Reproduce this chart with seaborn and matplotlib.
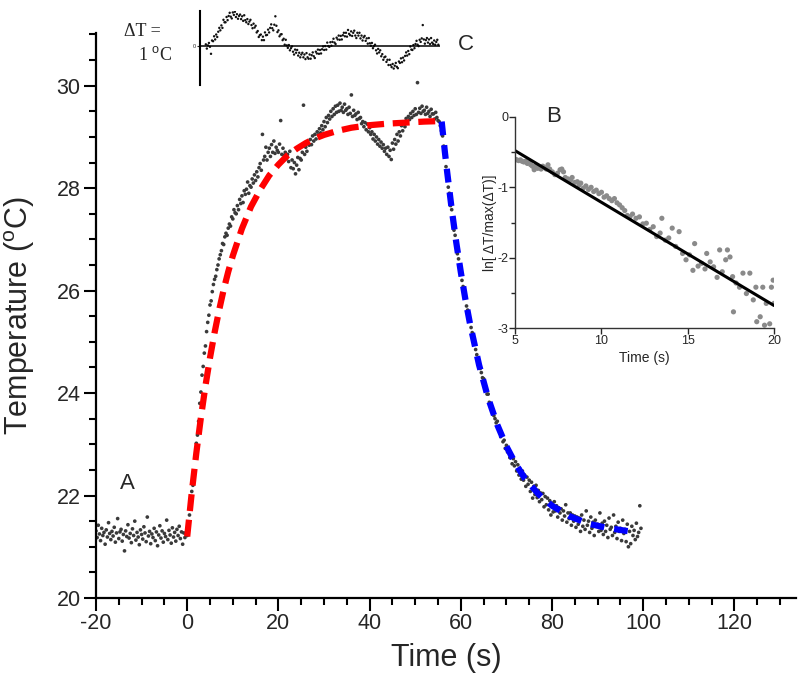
import numpy as np
import matplotlib
matplotlib.use("Agg")
import matplotlib.pyplot as plt
import seaborn as sns
from matplotlib import font_manager
from matplotlib.ticker import MultipleLocator, FixedLocator

# ---- main trace (A), one reading every 0.25 s starting at -20 s ----
t_start = -20.0
sample_step = 0.25

baseline_temp = [
    21.31, 21.18, 21.42, 21.25, 21.12, 21.36, 21.22, 21.28, 21.05, 21.33,
    21.19, 21.47, 21.26, 21.14, 21.30, 21.21, 21.38, 21.09, 21.27, 21.55,
    21.16, 21.29, 21.34, 21.11, 21.24, 20.92, 21.31, 21.20, 21.43, 21.17,
    21.26, 21.08, 21.35, 21.22, 21.50, 21.13, 21.28, 21.19, 21.04, 21.33,
    21.24, 21.15, 21.39, 21.27, 21.10, 21.58, 21.21, 21.30, 21.06, 21.25,
    21.18, 21.36, 21.12, 21.29, 21.02, 21.23, 21.41, 21.17, 21.31, 21.09,
    21.26, 21.20, 21.52, 21.14, 21.32, 21.23, 21.07, 21.37, 21.19, 21.28,
    21.11, 21.34, 21.22, 21.40, 21.16, 21.29, 21.05, 21.27, 21.18, 21.25,
]

heating_temp = [
    21.22, 21.35, 21.62, 21.80, 22.08, 22.20, 22.48, 22.75, 23.02, 23.18, 23.45, 23.80,
    24.02, 24.35, 24.52, 24.78, 24.92, 25.20, 25.38, 25.52, 25.72, 25.80, 25.98, 26.12,
    26.22, 26.28, 26.41, 26.50, 26.62, 26.70, 26.78, 26.92, 26.90, 27.05, 27.12, 27.08,
    27.22, 27.30, 27.26, 27.44, 27.40, 27.58, 27.52, 27.50, 27.66, 27.58, 27.78, 27.70,
    27.85, 27.72, 27.95, 27.88, 27.98, 28.12, 27.90, 28.05, 28.02, 28.18, 28.10, 28.26,
    28.15, 28.32, 28.22, 28.40, 28.48, 28.35, 29.05, 28.55, 28.62, 28.80, 28.55, 28.70,
    28.78, 28.62, 28.85, 28.70, 28.92, 28.68, 28.80, 28.74, 28.70, 28.86, 29.32, 28.66,
    28.78, 28.64, 28.70, 28.58, 28.66, 28.52, 28.72, 28.40, 28.55, 28.38, 28.50, 28.28,
    28.45, 28.60, 28.36, 28.58, 28.55, 28.70, 29.62, 28.66, 28.80, 28.72, 28.88, 28.84,
    28.95, 28.85, 29.02, 28.92, 29.05, 28.96, 29.10, 29.04, 29.16, 29.08, 29.22, 29.14,
    29.30, 29.20, 29.38, 29.28, 29.42, 29.35, 29.50, 29.40, 29.55, 29.44, 29.60, 29.48,
    29.62, 29.50, 29.66, 29.52, 29.58, 29.48, 29.64, 29.52, 29.55, 29.44, 29.58, 29.46,
    29.82, 29.40, 29.52, 29.42, 29.45, 29.34, 29.48, 29.36, 29.38, 29.26, 29.30, 29.20,
    29.28, 29.14, 29.25, 29.10, 29.18, 29.05, 29.10, 28.96, 29.05, 28.92, 29.00, 28.86,
    28.95, 28.82, 28.90, 28.78, 28.85, 28.72, 28.78, 28.66, 28.80, 28.62, 28.74, 28.56,
    28.88, 28.76, 28.95, 28.86, 29.05, 28.92, 29.10, 29.02, 29.22, 29.12, 29.28, 29.20,
    29.36, 29.28, 29.40, 29.34, 29.46, 29.38, 29.50, 29.42, 29.55, 29.44, 30.06, 29.48,
    29.56, 29.46, 29.60, 29.50, 29.52, 29.44, 29.58, 29.46, 29.50, 29.40, 29.54, 29.45,
    29.45, 29.35, 29.48, 29.38, 29.32,
]

cooling_temp = [
    29.30, 29.22, 29.12,
    29.02, 28.82, 28.68, 28.42, 28.28, 28.02, 27.90, 27.66, 27.58, 27.40, 27.18, 27.08,
    26.92, 26.72, 26.62, 26.45, 26.38, 26.20, 26.08, 25.98, 25.88, 25.70, 25.62, 25.48,
    25.42, 25.28, 25.18, 25.02, 24.98, 24.85, 24.75, 24.64, 24.62, 24.48, 24.40, 24.30,
    24.28, 24.15, 24.08, 23.98, 23.98, 23.82, 23.80, 23.68, 23.66, 23.56, 23.50, 23.42,
    23.45, 23.30, 23.26, 23.15, 23.20, 23.05, 23.08, 22.92, 22.98, 22.85, 22.90, 22.74,
    22.80, 22.62, 22.72, 22.58, 22.66, 22.48, 22.60, 22.40, 22.52, 22.32, 22.48, 22.30,
    22.40, 22.18, 22.36, 22.22, 22.30, 22.08, 22.26, 21.95, 22.18, 22.02, 22.20, 21.96,
    22.10, 21.88, 22.05, 21.92, 22.04, 21.78, 21.98, 21.82, 21.95, 21.72, 21.90, 21.62,
    21.85, 21.68, 21.88, 21.70, 21.80, 21.58, 21.76, 21.66, 21.74, 21.52, 21.70, 21.60,
    21.82, 21.48, 21.66, 21.55, 21.66, 21.42, 21.62, 21.50, 21.60, 21.38, 21.58, 21.44,
    21.56, 21.30, 21.62, 21.40, 21.52, 21.34, 21.70, 21.42, 21.50, 21.28, 21.58, 21.36,
    21.48, 21.22, 21.52, 21.40, 21.44, 21.30, 21.66, 21.32, 21.46, 21.24, 21.50, 21.30,
    21.42, 21.18, 21.56, 21.34, 21.38, 21.22, 21.62, 21.28, 21.40, 21.16, 21.48, 21.30,
    21.36, 21.12, 21.52, 21.26, 21.34, 21.10, 21.44, 21.00, 21.30, 21.06, 21.40, 21.22,
    21.32, 21.14, 21.46, 21.20, 21.28, 21.80, 21.36,
]

# fitted curves drawn over the trace
heat_fit_t = [0, 1, 2, 3, 4, 5, 6, 7, 8, 9, 10, 12, 14, 16, 18, 20, 22, 24, 26,
              28, 30, 33, 36, 40, 44, 48, 52, 55.5]
heat_fit_T = [21.20, 22.06, 22.83, 23.52, 24.14, 24.69, 25.18, 25.62, 26.02, 26.37,
              26.68, 27.21, 27.64, 27.97, 28.25, 28.46, 28.64, 28.77, 28.88, 28.97,
              29.04, 29.12, 29.18, 29.23, 29.26, 29.28, 29.30, 29.31]
cool_fit_t = [55.8, 56.5, 57, 58, 59, 60, 61, 62, 64, 66, 68, 70, 72, 74, 77, 80,
              84, 88, 92, 97]
cool_fit_T = [29.30, 28.71, 28.32, 27.59, 26.94, 26.36, 25.83, 25.36, 24.55, 23.90,
              23.38, 22.96, 22.62, 22.34, 22.03, 21.80, 21.59, 21.45, 21.37, 21.30]

# ---- inset B: log of the normalised cooling curve ----
b_time = [5.0, 5.1, 5.2, 5.3, 5.4, 5.5, 5.6, 5.7, 5.8, 5.9, 6.0, 6.1, 6.2, 6.3, 6.4,
          6.5, 6.6, 6.7, 6.8, 6.9, 7.0, 7.15, 7.3, 7.45, 7.6, 7.7, 7.8, 7.9, 8.05,
          8.2, 8.3, 8.45, 8.6, 8.7, 8.8, 8.95, 9.1, 9.25, 9.4, 9.55, 9.7, 9.85, 10.0,
          10.15, 10.3, 10.45, 10.6, 10.75, 10.9, 11.05, 11.2, 11.35, 11.5, 11.65,
          11.8, 12.0, 12.2, 12.4, 12.6, 12.8, 13.0, 13.2, 13.4, 13.5, 13.7, 13.9,
          14.1, 14.3, 14.5, 14.7, 14.9, 15.1, 15.3, 15.4, 15.6, 15.8, 16.0, 16.1,
          16.3, 16.5, 16.7, 16.85, 17.0, 17.2, 17.3, 17.45, 17.6, 17.65, 17.8, 18.0,
          18.2, 18.4, 18.6, 18.8, 18.95, 19.0, 19.2, 19.35, 19.45, 19.55, 19.75,
          19.85, 19.95, 20.0]
b_lnratio = [-0.60, -0.61, -0.62, -0.61, -0.63, -0.64, -0.63, -0.66, -0.65, -0.68,
             -0.70, -0.75, -0.70, -0.73, -0.72, -0.74, -0.70, -0.72, -0.74, -0.68,
             -0.74, -0.78, -0.82, -0.80, -0.75, -0.74, -0.78, -0.86, -0.88, -0.90,
             -0.86, -0.93, -0.92, -0.97, -0.94, -1.01, -0.98, -1.03, -1.00, -1.06,
             -1.04, -1.09, -1.07, -1.14, -1.12, -1.16, -1.19, -1.16, -1.22, -1.25,
             -1.29, -1.33, -1.40, -1.42, -1.38, -1.44, -1.42, -1.52, -1.51, -1.60,
             -1.56, -1.70, -1.65, -1.44, -1.75, -1.72, -1.58, -1.84, -1.63, -1.94,
             -2.03, -1.96, -2.18, -1.80, -2.12, -2.08, -2.16, -1.94, -2.06, -2.13,
             -2.28, -1.89, -2.20, -2.03, -1.89, -1.99, -2.27, -2.77, -2.36, -2.42,
             -2.22, -2.51, -2.22, -2.60, -2.42, -2.91, -2.84, -2.42, -2.96, -2.65,
             -2.94, -2.42, -2.32, -2.65]
b_fit_t = [5, 20]
b_fit_y = [-0.48, -2.68]

# ---- inset C: residuals of the heating fit, one every 0.25 s from -1.5 s ----
c_t0 = -1.5
c_step = 0.25
c_resid = [
    0.05, -0.07, 0.02, 0.09, -0.02, -0.22, 0.16, 0.14, 0.28, 0.19, 0.33, 0.26,
    0.41, 0.52, 0.45, 0.59, 0.52, 0.75, 0.68, 0.68, 0.83, 0.74, 0.86, 0.95,
    0.84, 0.79, 0.96, 0.89, 0.98, 0.83, 0.91, 0.78, 0.86, 0.90, 0.77, 0.85,
    0.72, 0.88, 0.74, 0.68, 0.77, 0.63, 0.70, 0.75, 0.60, 0.51, 0.64, 0.53,
    0.58, 0.39, 0.43, 0.26, 0.31, 0.33, 0.17, 0.27, 0.17, 0.39, 0.31, 0.32,
    0.47, 0.39, 0.52, 0.62, 0.51, 0.45, 0.61, 0.85, 0.58, 0.40, 0.45, 0.28,
    0.33, 0.34, 0.17, 0.21, 0.04, 0.18, 0.02, -0.05, 0.03, -0.12, -0.06, -0.01,
    -0.16, -0.24, -0.10, -0.19, -0.11, -0.27, -0.19, -0.32, -0.24, -0.19, -0.32, -0.24,
    -0.37, -0.20, -0.32, -0.36, -0.24, -0.36, -0.26, -0.18, -0.29, -0.34, -0.16, -0.21,
    -0.10, -0.22, -0.11, -0.21, -0.09, -0.01, -0.11, 0.00, -0.10, 0.10, 0.00, -0.02,
    0.11, 0.01, 0.12, 0.21, 0.10, 0.06, 0.24, 0.19, 0.30, 0.18, 0.29, 0.19,
    0.31, 0.38, 0.28, 0.38, 0.27, 0.46, 0.35, 0.31, 0.42, 0.29, 0.38, 0.44,
    0.30, 0.23, 0.38, 0.30, 0.38, 0.22, 0.30, 0.16, 0.25, 0.29, 0.15, 0.22,
    0.07, 0.23, 0.08, 0.01, 0.09, -0.06, 0.00, 0.04, -0.12, -0.21, -0.08, -0.18,
    -0.12, -0.29, -0.23, -0.39, -0.32, -0.30, -0.45, -0.39, -0.54, -0.39, -0.54, -0.60,
    -0.51, -0.64, -0.56, -0.48, -0.59, -0.63, -0.44, -0.48, -0.35, -0.46, -0.33, -0.41,
    -0.28, -0.18, -0.27, -0.14, -0.23, -0.01, -0.10, -0.11, 0.03, -0.06, 0.06, 0.15,
    0.04, 0.00, 0.18, 0.12, 0.22, 0.60, 0.19, 0.07, 0.17, 0.23, 0.10, 0.19,
    0.06, 0.23, 0.10, 0.06, 0.16, 0.04, 0.12, 0.18, 0.04,
]

temp = np.array(baseline_temp + heating_temp + cooling_temp)
time = t_start + sample_step * np.arange(len(temp))
c_time = c_t0 + c_step * np.arange(len(c_resid))

sns.set_style("ticks")
installed = {f.name for f in font_manager.fontManager.ttflist}
narrow = "Liberation Sans Narrow" if "Liberation Sans Narrow" in installed else "Liberation Sans"
plt.rcParams["font.family"] = [narrow, "DejaVu Sans"]
plt.rcParams["mathtext.fontset"] = "custom"
plt.rcParams["mathtext.rm"] = "Liberation Sans"
plt.rcParams["axes.unicode_minus"] = False

fig = plt.figure(figsize=(8, 6.91), dpi=100)
ax = fig.add_axes([0.12, 0.1346, 0.875, 0.8177])

sns.scatterplot(x=time, y=temp, ax=ax, s=7, color="#3a3a3a", edgecolor="none",
                linewidth=0, zorder=2)
sns.lineplot(x=heat_fit_t, y=heat_fit_T, ax=ax, color="#ff0000", lw=4.5,
             linestyle=(0, (2.7, 1.4)), errorbar=None, zorder=3)
sns.lineplot(x=cool_fit_t, y=cool_fit_T, ax=ax, color="#0000ff", lw=4.5,
             linestyle=(0, (2.2, 1.6)), errorbar=None, zorder=3)

ax.set_xlim(-20, 133.5)
ax.set_ylim(20, 31.03)
ax.xaxis.set_major_locator(FixedLocator([-20, 0, 20, 40, 60, 80, 100, 120]))
ax.xaxis.set_minor_locator(MultipleLocator(5))
ax.yaxis.set_major_locator(MultipleLocator(2))
ax.yaxis.set_minor_locator(MultipleLocator(0.5))
ax.tick_params(which="major", length=9, width=1.5, labelsize=15.5, pad=2, color="black")
ax.tick_params(which="minor", length=5, width=1.5, color="black")
for side in ["top", "right"]:
    ax.spines[side].set_visible(False)
for side in ["left", "bottom"]:
    ax.spines[side].set_linewidth(1.6)
    ax.spines[side].set_color("black")
ax.set_xlabel("Time (s)", fontsize=22, labelpad=6)
ax.set_ylabel("Temperature ($^{\\mathrm{o}}$C)", fontsize=22, family="Liberation Sans")
ax.yaxis.set_label_coords(-0.084, 0.5)
ax.text(-13.2, 22.23, "A", fontsize=16, ha="center", va="center", family="Liberation Sans")

# inset B
axb = fig.add_axes([0.644, 0.5253, 0.3235, 0.3054])
axb.set_facecolor("none")
sns.scatterplot(x=b_time, y=b_lnratio, ax=axb, s=14, color="#8a8a8a", edgecolor="none",
                linewidth=0)
sns.lineplot(x=b_fit_t, y=b_fit_y, ax=axb, color="black", lw=2.2, errorbar=None)
axb.set_xlim(5, 20)
axb.set_ylim(-3, 0)
axb.set_xticks([5, 10, 15, 20])
axb.set_yticks([0, -1, -2, -3])
axb.yaxis.set_minor_locator(MultipleLocator(0.5))
axb.tick_params(which="major", length=4, width=1, labelsize=9, pad=1)
axb.tick_params(which="minor", length=3, width=1)
for side in ["top", "right"]:
    axb.spines[side].set_visible(False)
for side in ["left", "bottom"]:
    axb.spines[side].set_linewidth(1)
    axb.spines[side].set_color("#333333")
axb.set_xlabel("Time (s)", fontsize=10, labelpad=3)
axb.set_ylabel("ln[ \u0394T/max(\u0394T)]", fontsize=10, labelpad=0)
axb.text(0.147, 1.0, "B", transform=axb.transAxes, fontsize=16, ha="center",
         va="center", family="Liberation Sans")

# inset C
axc = fig.add_axes([0.25, 0.877, 0.30, 0.107])
axc.set_facecolor("none")
sns.scatterplot(x=c_time, y=c_resid, ax=axc, s=3, color="#111111", edgecolor="none",
                linewidth=0)
axc.axhline(0, color="black", lw=1.1)
axc.set_xlim(-2.9, 54.9)
axc.set_ylim(-1.11, 1.0)
axc.set_xticks([])
axc.set_yticks([0])
axc.set_yticklabels(["0"])
axc.tick_params(axis="y", length=2, width=0.8, labelsize=4, pad=1)
for side in ["top", "right", "bottom"]:
    axc.spines[side].set_visible(False)
axc.spines["left"].set_linewidth(1.5)
axc.spines["left"].set_color("black")

fig.text(466 / 800, 1 - 45 / 691, "C", fontsize=16, ha="center", va="center",
         family="Liberation Sans")
fig.text(142 / 800, 1 - 31 / 691, "\u0394T =", fontsize=13, ha="center", va="center",
         family="Liberation Serif")
fig.text(155 / 800, 1 - 55 / 691, "1 $^{\\mathrm{o}}$C", fontsize=13, ha="center",
         va="center", family="Liberation Serif")

fig.savefig("out.png", dpi=100)
